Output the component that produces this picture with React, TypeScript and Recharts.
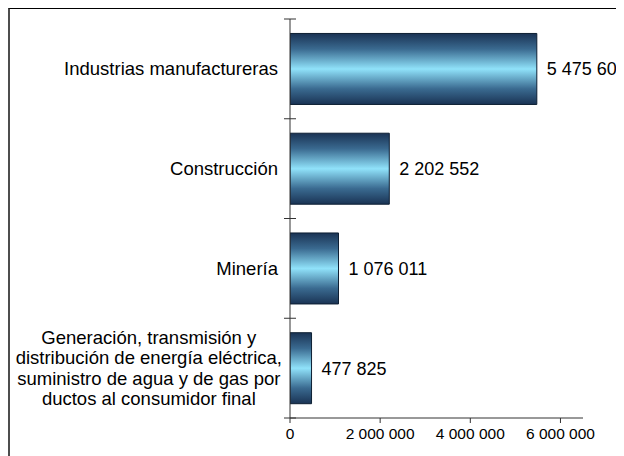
import React from 'react';
import { BarChart, Bar, XAxis, YAxis, LabelList } from 'recharts';

const categories = [
  'Industrias manufactureras',
  'Construcción',
  'Minería',
  'Generación, transmisión y\ndistribución de energía eléctrica,\nsuministro de agua y de gas por\nductos al consumidor final',
];
const values = [5475600, 2202552, 1076011, 477825];
const xTicks = [0, 2000000, 4000000, 6000000];

const data = categories.map((name, i) => ({ name, value: values[i] }));

const FONT = '"Liberation Sans", Arial, sans-serif';
const fmt = (v: number) => String(v).replace(/\B(?=(\d{3})+(?!\d))/g, ' ');

let ctx: CanvasRenderingContext2D | null = null;
const measure = (s: string, size: number) => {
  if (!ctx) ctx = document.createElement('canvas').getContext('2d');
  if (!ctx) return s.length * size * 0.5;
  ctx.font = `${size}px "Liberation Sans"`;
  return ctx.measureText(s).width;
};

const CategoryTick = (props: any) => {
  const { x, y, payload, index, visibleTicksCount } = props;
  const half = payload.offset || 0;
  const lines: string[] = String(payload.value).split('\n');
  const size = 18.5;
  const lh = 20.3;
  let text;
  if (lines.length === 1) {
    text = (
      <text x={x - 12} y={y} dy="0.35em" textAnchor="end" fontSize={size} fontFamily={FONT} fill="#000">
        {lines[0]}
      </text>
    );
  } else {
    const w = Math.max(...lines.map((l) => measure(l, size)));
    const cx = x - 8 - w / 2;
    const start = y - ((lines.length - 1) * lh) / 2;
    text = (
      <text textAnchor="middle" fontSize={size} fontFamily={FONT} fill="#000">
        {lines.map((l, i) => (
          <tspan key={i} x={cx} y={start + i * lh} dy="0.35em">
            {l}
          </tspan>
        ))}
      </text>
    );
  }
  return (
    <g>
      <line x1={x - 6} x2={x + 6} y1={y - half} y2={y - half} stroke="#333" />
      {index === visibleTicksCount - 1 && (
        <line x1={x - 6} x2={x + 6} y1={y + half} y2={y + half} stroke="#333" />
      )}
      {text}
    </g>
  );
};

export default function App() {
  return (
    <div
      style={{
        width: 614,
        height: 447,
        borderLeft: '2px solid #4d4d4d',
        borderTop: '1px solid #000',
        overflow: 'hidden',
        position: 'relative',
        background: '#fff',
      }}
    >
      <BarChart
        width={614}
        height={447}
        data={data}
        layout="vertical"
        margin={{ top: 10, right: 41, left: 0, bottom: 0 }}
        barCategoryGap="14.5%"
        style={{ overflow: 'visible' }}
      >
        <defs>
          <linearGradient id="barGrad" x1="0" y1="0" x2="0" y2="1">
            <stop offset="0%" stopColor="#1a3354" />
            <stop offset="22%" stopColor="#3a6a90" />
            <stop offset="50%" stopColor="#90e2fa" />
            <stop offset="78%" stopColor="#3a6a90" />
            <stop offset="100%" stopColor="#1a3354" />
          </linearGradient>
        </defs>
        <XAxis
          type="number"
          domain={[0, 6500000]}
          ticks={xTicks}
          tickFormatter={fmt}
          height={38}
          tickSize={5}
          tickMargin={5}
          stroke="#333"
          tick={{ fontSize: 15.5, fontFamily: FONT, fill: '#000' }}
          allowDataOverflow
        />
        <YAxis
          type="category"
          dataKey="name"
          width={280}
          tickSize={0}
          tickMargin={0}
          tickLine={false}
          stroke="#333"
          tick={<CategoryTick />}
          interval={0}
        />
        <Bar dataKey="value" fill="url(#barGrad)" stroke="#0d1f33" strokeWidth={1} isAnimationActive={false}>
          <LabelList
            dataKey="value"
            position="right"
            offset={10}
            formatter={(v: any) => fmt(Number(v))}
            style={{ fontSize: 18, fontFamily: FONT, fill: '#000' }}
          />
        </Bar>
      </BarChart>
    </div>
  );
}
